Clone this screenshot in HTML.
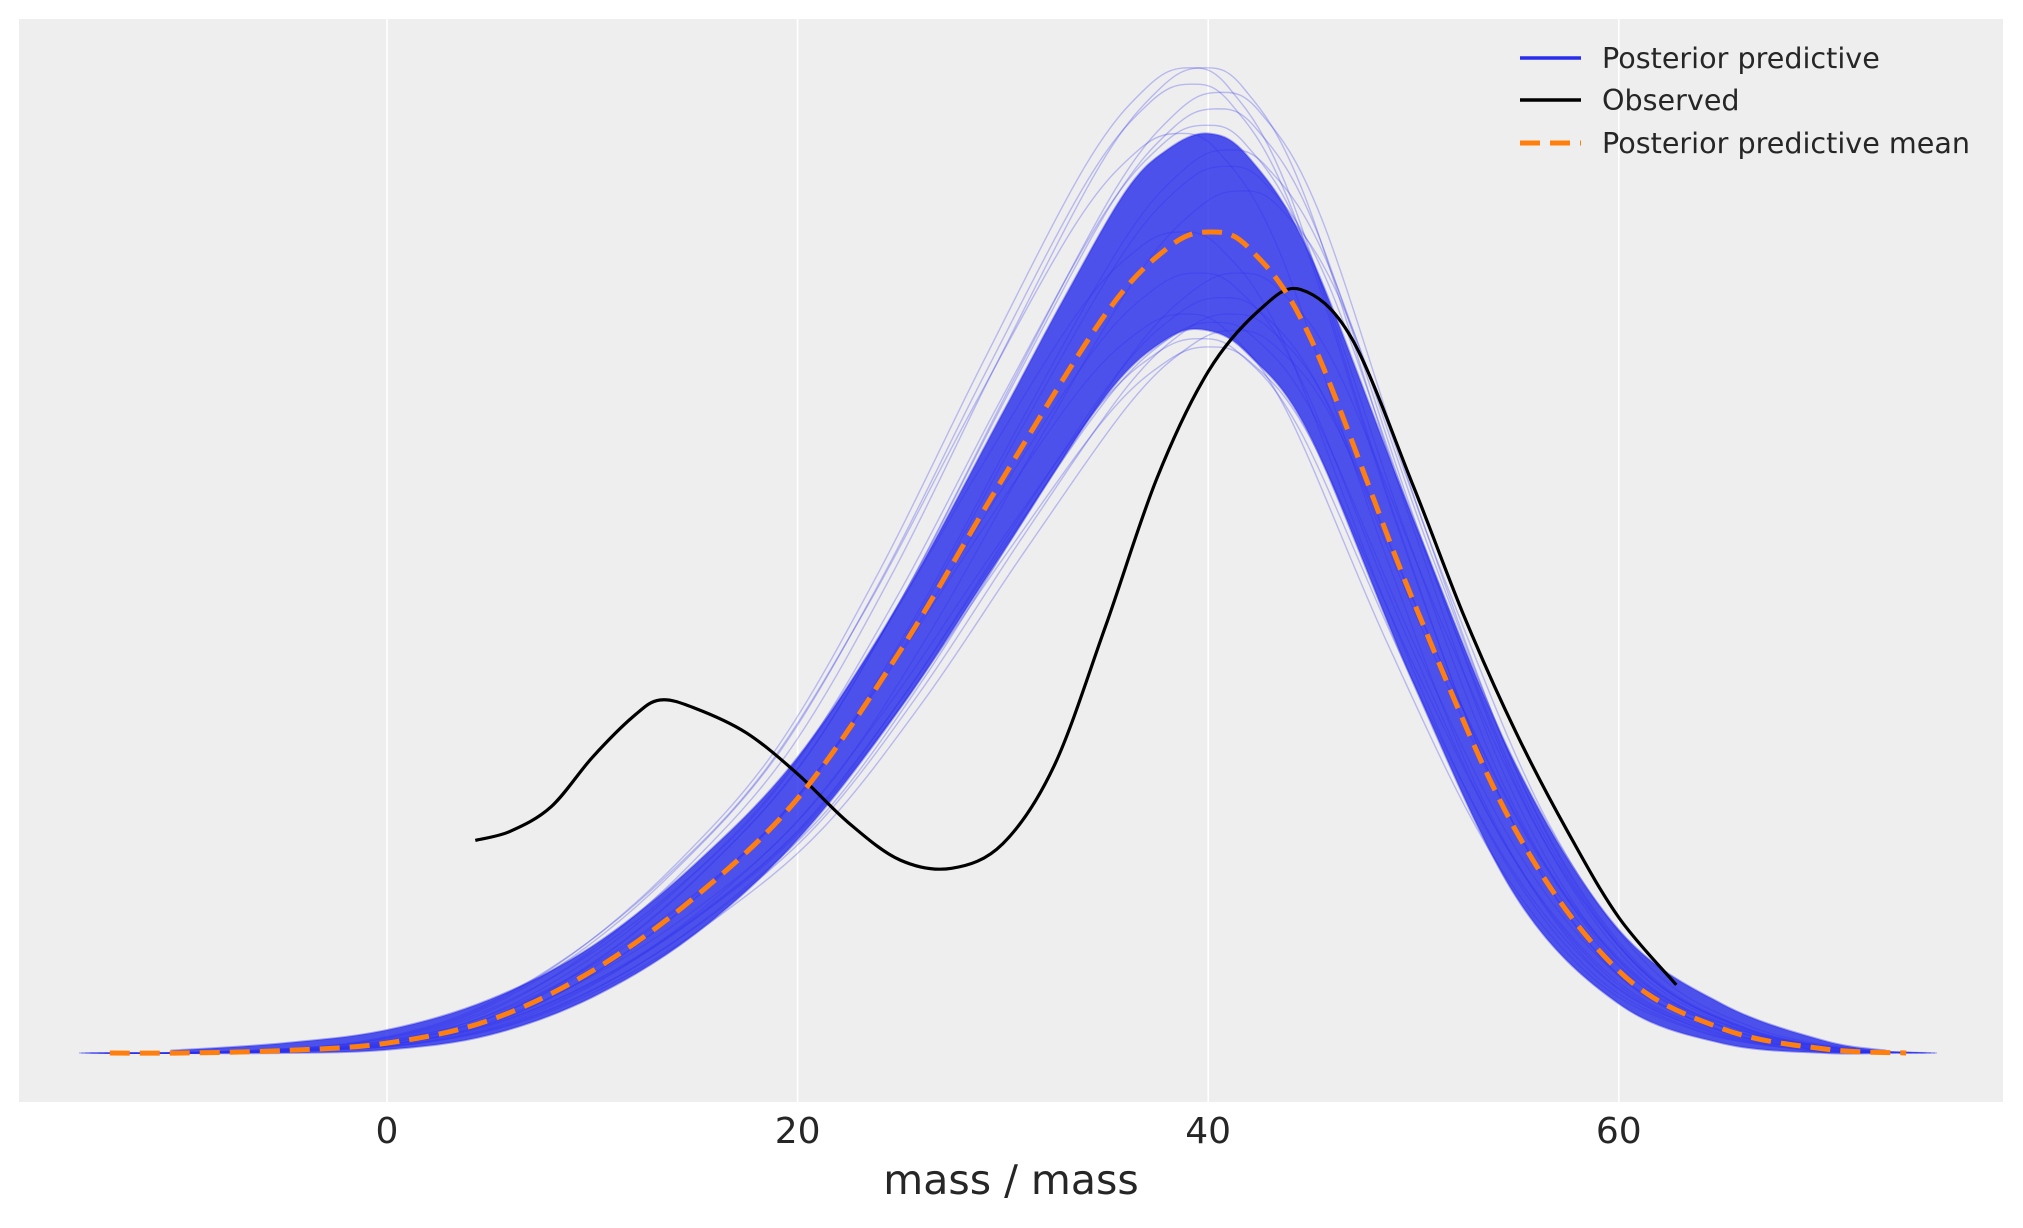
<!DOCTYPE html>
<html><head><meta charset="utf-8"><style>
html,body{margin:0;padding:0;background:#fff;}
svg text{font-family:"DejaVu Sans","Liberation Sans",sans-serif;fill:#262626;}
</style></head><body>
<svg id="chart" width="2023" height="1223" viewBox="0 0 2023 1223" xmlns="http://www.w3.org/2000/svg">
<rect x="19" y="19" width="1984" height="1083" fill="#eeeeee"/>
<g id="grid"></g>
<g id="band"></g>
<g id="series"></g>
<g id="xaxis"></g>
<text x="1011" y="1194" font-size="41" text-anchor="middle">mass / mass</text>
<g>
<line x1="1520" y1="58" x2="1581" y2="58" stroke="#2a2eec" stroke-width="3.5"/>
<text x="1602" y="68" font-size="28.6">Posterior predictive</text>
<line x1="1520" y1="100" x2="1581" y2="100" stroke="#000" stroke-width="3.5"/>
<text x="1602" y="110" font-size="28.6">Observed</text>
<line x1="1520" y1="143" x2="1581" y2="143" stroke="#ff7f0e" stroke-width="5" stroke-dasharray="20,10"/>
<text x="1602" y="153" font-size="28.6">Posterior predictive mean</text>
</g>
</svg>
<script>
const xTicks=[0,20,40,60];
const meanX=[-13.5,-10,-5,0,5,10,15,20,25,30,35,38,40,42,45,50,55,60,65,70,74];
const meanY=[0,0,0.003,0.012,0.04,0.1,0.19,0.31,0.49,0.7,0.9,0.98,1.0,0.98,0.87,0.55,0.27,0.1,0.03,0.005,0];
const upperX=[-10.5,-5,0,5,10,15,20,25,30,33,36,38,40,42,45,50,55,60,65,70,73];
const upperY=[0.003,0.012,0.028,0.065,0.13,0.23,0.36,0.55,0.78,0.92,1.05,1.1,1.12,1.09,0.97,0.65,0.35,0.15,0.06,0.015,0.003];
const lowerX=[-10.5,-5,0,5,10,15,20,25,30,35,38,40,42,45,50,55,60,65,70,73];
const lowerY=[0,0,0.004,0.022,0.068,0.145,0.26,0.42,0.61,0.8,0.87,0.88,0.85,0.75,0.45,0.19,0.06,0.012,0,0];
const obsX=[4.3,6,8,10,12,13.3,15,17.5,20,22.5,25,27.5,30,32.5,35,37.5,40,42.5,44.5,47,50,52.5,55,57.5,60,62.8];
const obsY=[0.259,0.27,0.30,0.36,0.41,0.43,0.42,0.39,0.34,0.28,0.235,0.225,0.255,0.35,0.52,0.70,0.83,0.905,0.93,0.87,0.69,0.53,0.39,0.27,0.165,0.083];
const sampleShift=[-1.5,-1.2,-0.9,-0.6,-0.3,0,0.3,0.6,0.9,1.2,1.5,-1.0,-0.5,0.5,1.0,-1.4,1.4,-0.2,0.2,0.8];
const sampleScale=[1.12,0.9,1.18,0.95,1.2,0.86,1.15,0.92,1.1,0.88,1.05,1.2,0.87,1.17,0.9,1.0,0.95,1.13,0.89,1.08];

const NS="http://www.w3.org/2000/svg";
const X0=387,XS=20.53,Y0=1053,YS=821;
function sx(v){return X0+v*XS;}
function sy(v){return Y0-v*YS;}
function pathFrom(xs,ys){
  const p=xs.map((x,i)=>[sx(x),sy(ys[i])]);
  let d="M"+p[0][0].toFixed(1)+","+p[0][1].toFixed(1);
  for(let i=0;i<p.length-1;i++){
    const a=p[Math.max(i-1,0)],b=p[i],c=p[i+1],e=p[Math.min(i+2,p.length-1)];
    const c1=[b[0]+(c[0]-a[0])/6,b[1]+(c[1]-a[1])/6],c2=[c[0]-(e[0]-b[0])/6,c[1]-(e[1]-b[1])/6];
    d+=" C"+c1.map(v=>v.toFixed(1))+" "+c2.map(v=>v.toFixed(1))+" "+c[0].toFixed(1)+","+c[1].toFixed(1);
  }
  return d;
}
function mk(tag,parent,attrs){const el=document.createElementNS(NS,tag);for(const k in attrs)el.setAttribute(k,attrs[k]);parent.appendChild(el);return el;}

const grid=document.getElementById('grid'),xa=document.getElementById('xaxis');
xTicks.forEach(t=>{
  const l=mk('line',grid,{x1:sx(t),x2:sx(t),y1:19,y2:1102,stroke:'#fff','stroke-width':1.6});
  
  
  const tx=mk('text',xa,{x:sx(t),y:1143,'font-size':36,'text-anchor':'middle'});
  tx.textContent=t;
  
  
});

const band=document.getElementById('band');
sampleShift.forEach((s,i)=>{
  const p=mk('path',band,{d:pathFrom(meanX.map(x=>x+s),meanY.map(y=>y*sampleScale[i])),fill:'none',stroke:'#2a2eec','stroke-opacity':0.28,'stroke-width':1.4});
  
  
});
const up=pathFrom(upperX,upperY);
const lowRevX=lowerX.slice().reverse(),lowRevY=lowerY.slice().reverse();
const lo=pathFrom(lowRevX,lowRevY).replace(/^M/,"L");
const bp=mk('path',band,{d:up+" "+lo+" Z",fill:'#2a2eec','fill-opacity':0.82,stroke:'#2a2eec','stroke-opacity':0.4,'stroke-width':2});



const series=document.getElementById('series');
const ob=mk('path',series,{d:pathFrom(obsX,obsY),fill:'none',stroke:'#000','stroke-width':3.2});


const mn=mk('path',series,{d:pathFrom(meanX,meanY),fill:'none',stroke:'#ff7f0e','stroke-width':5,'stroke-dasharray':'20,10'});


</script>
</body></html>
